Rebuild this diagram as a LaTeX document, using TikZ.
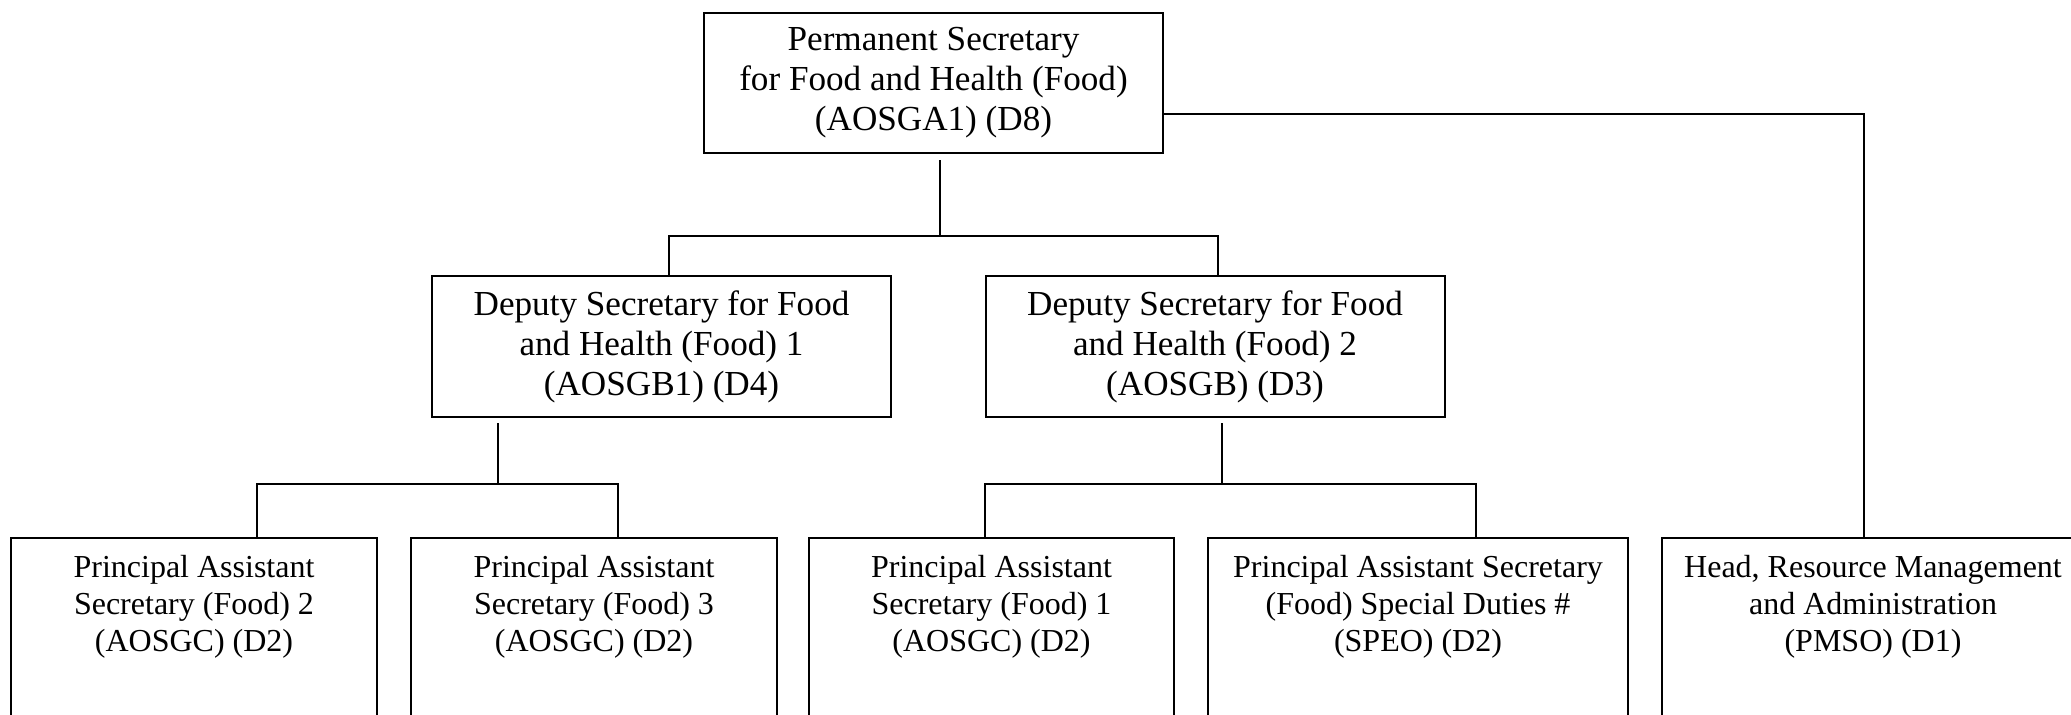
\documentclass[tikz,border=0pt]{standalone}
\usepackage{fontspec}
\setmainfont{Liberation Serif}
\usetikzlibrary{calc}

\newcommand{\pxu}{0.35pt}

\tikzset{
  post/.style={draw, line width=0.7pt, align=center, inner sep=0pt,
    font=\fontsize{12.3}{14}\selectfont,
    minimum width=459*\pxu, minimum height=141*\pxu},
  postlow/.style={draw, line width=0.7pt, align=center, inner sep=0pt,
    font=\fontsize{11.2}{12.95}\selectfont, anchor=north,
    text height=113*\pxu, text depth=90*\pxu},
  link/.style={line width=0.7pt}
}

\begin{document}
\begin{tikzpicture}[x=0.35pt, y=-0.35pt]
    \useasboundingbox (0,0) rectangle (2071,714);
    \clip (0,0) rectangle (2071,714);

    \node[post, minimum height=140*\pxu] (ps) at (933.5,83) {Permanent Secretary\\for Food and Health (Food)\\(AOSGA1) (D8)};
    \node[post] (ds1) at (661.5,346.5) {Deputy Secretary for Food\\and Health (Food) 1\\(AOSGB1) (D4)};
    \node[post] (ds2) at (1215,346.5) {Deputy Secretary for Food\\and Health (Food) 2\\(AOSGB) (D3)};

    \node[postlow, minimum width=366*\pxu] (pas2) at (194,537) {Principal Assistant\\Secretary (Food) 2\\(AOSGC) (D2)};
    \node[postlow, minimum width=366*\pxu] (pas3) at (594,537) {Principal Assistant\\Secretary (Food) 3\\(AOSGC) (D2)};
    \node[postlow, minimum width=365*\pxu] (pas1) at (991.5,537) {Principal Assistant\\Secretary (Food) 1\\(AOSGC) (D2)};
    \node[postlow, minimum width=420*\pxu] (passd) at (1418,537) {Principal Assistant Secretary\\(Food) Special Duties \#\\(SPEO) (D2)};
    \node[postlow, minimum width=422*\pxu] (head) at (1873,537) {Head, Resource Management\\and Administration\\(PMSO) (D1)};

    \coordinate (j0) at (940,236);
    \coordinate (b0l) at (669,236);
    \coordinate (b0r) at (1218,236);
    \coordinate (j1) at (498,484);
    \coordinate (b1l) at (257,484);
    \coordinate (b1r) at (618,484);
    \coordinate (j2) at (1222,484);
    \coordinate (b2l) at (985,484);
    \coordinate (b2r) at (1476,484);
    \coordinate (k) at (1864,114);

    % top level
    \draw[link] ($(ps.south -| j0)+(0,6)$) -- (j0);
    \draw[link] (ds1.north -| b0l) |- (b0r) -- (ds2.north -| b0r);
    \draw[link] (ps.east |- k) -| (head.north -| k);

    % deputies
    \draw[link] ($(ds1.south -| j1)+(0,5)$) -- (j1);
    \draw[link] (pas2.north -| b1l) |- (b1r) -- (pas3.north -| b1r);
    \draw[link] ($(ds2.south -| j2)+(0,5)$) -- (j2);
    \draw[link] (pas1.north -| b2l) |- (b2r) -- (passd.north -| b2r);
\end{tikzpicture}
\end{document}
